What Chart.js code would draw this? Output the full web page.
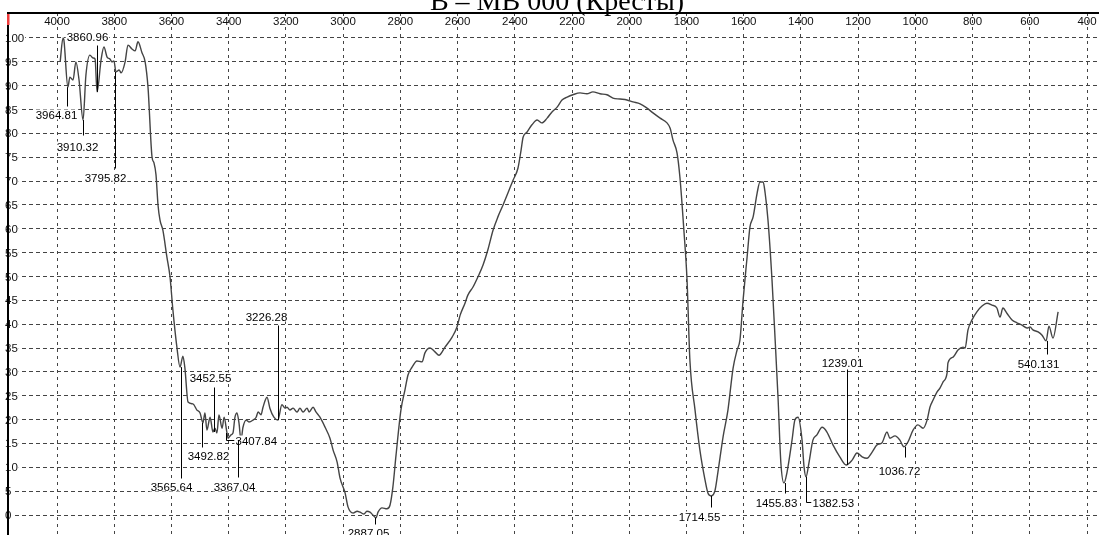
<!DOCTYPE html>
<html>
<head>
<meta charset="utf-8">
<script src="https://cdn.jsdelivr.net/npm/chart.js@4.4.0/dist/chart.umd.min.js"></script>
<style>
  html, body { margin: 0; padding: 0; background: #fff; overflow: hidden; }
  #spectrum { display: block; }
</style>
</head>
<body>
<canvas id="spectrum" width="1099" height="535"></canvas>
<script>
// IR spectrum readings: wavenumber (cm-1) and transmittance (%)
const wavenumber = [
  3989, 3979, 3976, 3962, 3955, 3944, 3934, 3923, 3909, 3899,
  3885, 3874, 3867, 3860, 3846, 3836, 3825, 3815, 3808, 3801,
  3794, 3783, 3776, 3762, 3752, 3738, 3727, 3717, 3703, 3692,
  3682, 3668, 3661, 3654, 3647, 3640, 3630, 3616, 3605, 3595,
  3581, 3570, 3560, 3553, 3542, 3525, 3511, 3500, 3490, 3483,
  3476, 3465, 3455, 3448, 3441, 3434, 3423, 3416, 3406, 3402,
  3392, 3385, 3378, 3371, 3364, 3357, 3350, 3339, 3329, 3315,
  3304, 3297, 3287, 3280, 3266, 3256, 3242, 3228, 3214, 3203,
  3196, 3186, 3175, 3161, 3151, 3140, 3126, 3119, 3105, 3095,
  3081, 3063, 3046, 3035, 3021, 3011, 2993, 2983, 2965, 2951,
  2941, 2927, 2917, 2906, 2896, 2885, 2878, 2864, 2847, 2836,
  2826, 2815, 2798, 2784, 2773, 2759, 2742, 2724, 2714, 2696,
  2679, 2665, 2644, 2619, 2602, 2591, 2574, 2564, 2546, 2529,
  2511, 2494, 2476, 2459, 2441, 2424, 2406, 2389, 2378, 2371,
  2357, 2340, 2322, 2305, 2287, 2270, 2252, 2235, 2217, 2197,
  2172, 2148, 2127, 2102, 2078, 2057, 2032, 2008, 1987, 1962,
  1938, 1917, 1892, 1868, 1857, 1847, 1833, 1823, 1809, 1798,
  1788, 1770, 1753, 1735, 1725, 1714, 1700, 1690, 1672, 1655,
  1637, 1623, 1613, 1602, 1588, 1578, 1567, 1553, 1543, 1532,
  1525, 1515, 1501, 1490, 1480, 1470, 1459, 1449, 1431, 1421,
  1410, 1396, 1389, 1382, 1372, 1358, 1344, 1326, 1309, 1288,
  1264, 1242, 1221, 1204, 1186, 1169, 1151, 1134, 1117, 1099,
  1089, 1071, 1054, 1040, 1026, 1008, 991, 973, 959, 949,
  938, 924, 914, 903, 889, 886, 868, 851, 833, 826,
  816, 802, 785, 767, 750, 732, 715, 704, 694, 680,
  662, 645, 627, 610, 599, 589, 571, 557, 543, 533,
  519, 501
];
const transmittance = [
  95.0, 100.0, 99.6, 89.7, 91.8, 91.2, 95.0, 91.2, 82.8, 92.2,
  96.4, 95.8, 95.6, 88.7, 95.4, 98.1, 96.0, 95.6, 95.0, 95.2,
  92.9, 93.3, 92.7, 95.0, 98.5, 97.7, 97.3, 99.2, 96.9, 95.0,
  89.7, 75.1, 73.8, 71.3, 65.0, 61.8, 59.7, 54.1, 49.9, 43.0,
  35.2, 31.0, 33.3, 30.8, 23.7, 23.3, 22.0, 21.4, 19.3, 21.4,
  17.8, 20.5, 17.4, 18.2, 17.2, 21.0, 18.2, 20.5, 17.2, 16.1,
  16.8, 17.2, 20.5, 21.4, 19.3, 15.7, 18.4, 19.9, 19.5, 19.9,
  20.5, 21.6, 21.0, 22.6, 24.7, 22.4, 20.5, 19.9, 23.1, 22.4,
  22.6, 22.0, 22.4, 21.6, 22.4, 21.6, 22.4, 21.6, 22.6, 21.6,
  20.5, 18.4, 16.1, 13.6, 11.1, 7.8, 4.6, 1.7, 0.4, 0.8,
  0.6, 0.2, 0.8, 0.6, 0.0, -0.6, 0.6, 1.5, 1.3, 2.1,
  5.9, 12.6, 22.0, 26.2, 29.4, 31.0, 32.3, 32.1, 34.0, 35.0,
  34.2, 33.5, 35.2, 37.3, 39.4, 41.9, 44.4, 46.1, 47.8, 49.9,
  52.4, 55.6, 59.7, 62.5, 65.0, 67.5, 70.2, 72.7, 76.5, 79.2,
  80.3, 81.8, 82.8, 82.2, 83.2, 84.5, 85.5, 87.0, 87.6, 88.1,
  88.5, 88.3, 88.7, 88.3, 88.1, 87.4, 87.2, 87.0, 86.6, 86.2,
  85.3, 84.3, 83.2, 82.2, 81.1, 78.6, 75.9, 70.9, 59.7, 49.3,
  32.5, 22.0, 13.6, 7.3, 4.6, 4.0, 5.2, 9.0, 16.4, 22.0,
  30.8, 34.6, 36.7, 45.1, 54.1, 60.4, 62.5, 67.5, 69.8, 69.8,
  67.5, 61.8, 49.3, 36.7, 24.7, 10.9, 6.7, 8.8, 15.7, 19.9,
  20.5, 15.7, 10.1, 8.0, 10.9, 15.7, 16.8, 18.4, 17.4, 14.7,
  12.2, 10.5, 11.5, 13.0, 12.2, 11.9, 13.2, 14.7, 15.1, 17.4,
  16.1, 16.6, 15.7, 14.3, 15.3, 17.8, 18.9, 18.2, 19.9, 22.6,
  24.1, 25.8, 26.6, 27.9, 29.8, 31.9, 33.1, 34.6, 35.2, 35.0,
  38.8, 40.9, 42.6, 43.8, 44.4, 44.0, 43.4, 41.5, 43.4, 42.3,
  40.9, 40.3, 39.8, 39.2, 39.4, 38.8, 38.4, 37.7, 36.5, 39.6,
  37.1, 42.6
];

// picked peaks
const peakWn = [3964.81, 3910.32, 3860.96, 3795.82, 3565.64, 3492.82, 3452.55, 3407.84, 3367.04,
                3226.28, 2887.05, 1714.55, 1455.83, 1382.53, 1239.01, 1036.72, 540.131];
const peakT = [89.7, 82.8, 88.7, 92.9, 31.0, 19.3, 17.4, 17.2, 15.7,
               19.9, -0.6, 4.0, 6.7, 8.0, 10.5, 14.3, 36.5];

// axis ticks
const xTicks = [4000, 3800, 3600, 3400, 3200, 3000, 2800, 2600, 2400, 2200,
                2000, 1800, 1600, 1400, 1200, 1000, 800, 600, 400];
const yTicks = [0, 5, 10, 15, 20, 25, 30, 35, 40, 45, 50, 55, 60, 65, 70, 75, 80, 85, 90, 95, 100];

const titleText = 'В – МВ 000 (Кресты)';

// leader line per peak label (px): [line length from curve, label dx, label dy, elbow]
const peakLeader = [
  [19, -11, 8], [15, -6, 11], [-47, -10, -9], [96, -10, 9], [111, -10, 8],
  [24, 6, 8], [-45, -4, -10], [7, 9, 0, true], [37, -4, 9],
  [-95, -12, -9], [6, -7, 8], [11, -12, 9], [10, -9, 9], [25, 6, 0, true],
  [-96, -5, -7], [10, -6, 13], [13, -9, 9]
];

const smallFont = '11.5px "Liberation Sans", Arial, sans-serif';

function boxedText(ctx, text, x, y, align) {
  ctx.textAlign = align;
  const w = ctx.measureText(text).width;
  const left = align === 'center' ? x - w / 2 : x;
  ctx.fillStyle = '#fff';
  ctx.fillRect(left - 1, y - 5, w + 2, 10);
  ctx.fillStyle = '#000';
  ctx.fillText(text, x, y + 4);
}

const decorations = {
  id: 'decorations',
  afterDraw(chart) {
    const ctx = chart.ctx;
    const xs = chart.scales.x;
    const ys = chart.scales.y;
    ctx.save();
    ctx.font = smallFont;
    ctx.textBaseline = 'alphabetic';

    // y tick labels, inside the plot on the left
    yTicks.forEach(v => {
      const y = ys.getPixelForValue(v);
      ctx.textAlign = 'left';
      const w = ctx.measureText(String(v)).width;
      ctx.fillStyle = '#fff';
      ctx.fillRect(5, y - 5, w + 1, 10);
      ctx.fillStyle = '#111';
      ctx.fillText(String(v), 5, y + 4);
    });

    // x tick labels along the top
    ctx.textAlign = 'center';
    ctx.fillStyle = '#111';
    xTicks.forEach(v => {
      ctx.fillText(String(v), xs.getPixelForValue(v), 25);
    });

    // peak markers
    ctx.strokeStyle = '#000';
    ctx.lineWidth = 1;
    peakWn.forEach((wn, i) => {
      const [len, dx, dy, elbow] = peakLeader[i];
      const x = Math.round(xs.getPixelForValue(wn)) + 0.5;
      const y0 = ys.getPixelForValue(peakT[i]);
      const y1 = Math.round(y0 + len) + 0.5;
      ctx.beginPath();
      ctx.moveTo(x, y0);
      ctx.lineTo(x, y1);
      if (elbow) ctx.lineTo(x + dx - 1, y1);
      ctx.stroke();
      boxedText(ctx, String(wn), x + dx, y1 + dy, elbow ? 'left' : 'center');
    });

    // frame: top and left edges, red cursor mark
    ctx.fillStyle = '#000';
    ctx.fillRect(7, 12, chart.width - 7, 2);
    ctx.fillRect(7, 12, 2, chart.height - 12);
    ctx.fillStyle = '#f03c3c';
    ctx.fillRect(7, 14, 2.5, 11);

    // title (cut by the top edge)
    ctx.fillStyle = '#000';
    ctx.textAlign = 'center';
    ctx.font = '28px "Liberation Serif", "Times New Roman", serif';
    ctx.fillText(titleText, 557, 10);
    ctx.restore();
  }
};

const ctx = document.getElementById('spectrum').getContext('2d');
const spectrumChart = new Chart(ctx, {
  type: 'line',
  data: {
    datasets: [{
      label: 'T, %',
      data: wavenumber.map((w, i) => ({ x: w, y: transmittance[i] })),
      borderColor: '#444',
      borderWidth: 1.4,
      pointRadius: 0,
      fill: false,
      cubicInterpolationMode: 'monotone'
    }]
  },
  options: {
    responsive: false,
    animation: false,
    events: [],
    layout: { padding: { left: 8, top: 13, right: 0, bottom: 0 }, autoPadding: false },
    plugins: { legend: { display: false }, tooltip: { enabled: false } },
    scales: {
      x: {
        type: 'linear',
        reverse: true,
        min: 358.1,
        max: 4171.3,
        bounds: 'data',
        afterBuildTicks: axis => { axis.ticks = xTicks.map(v => ({ value: v })); },
        ticks: { display: false },
        grid: { color: '#444', lineWidth: 1, drawTicks: false },
        border: { display: false, dash: [3, 4] }
      },
      y: {
        type: 'linear',
        min: -4.19,
        max: 105.24,
        bounds: 'data',
        afterBuildTicks: axis => { axis.ticks = yTicks.map(v => ({ value: v })); },
        ticks: { display: false },
        grid: { color: '#444', lineWidth: 1, drawTicks: false },
        border: { display: false, dash: [4, 3] }
      }
    }
  },
  plugins: [decorations]
});
</script>
</body>
</html>
